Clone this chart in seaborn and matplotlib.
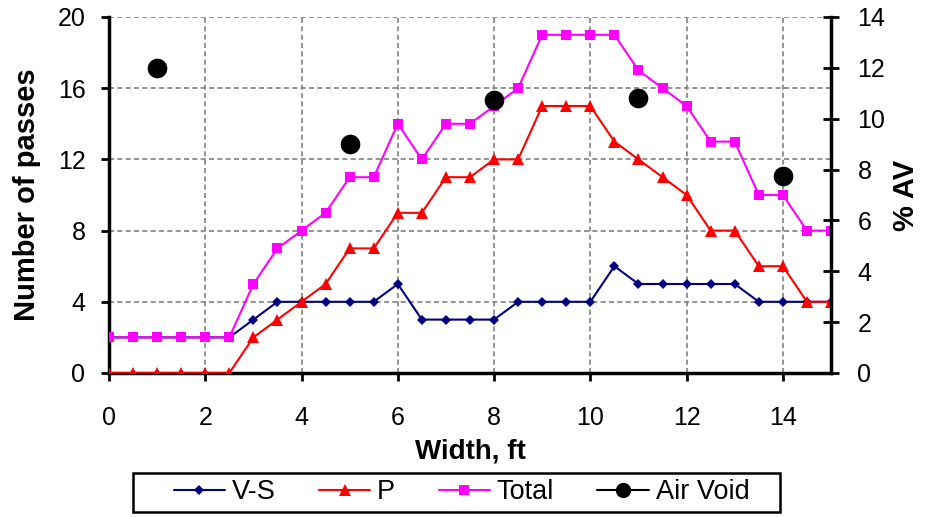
import matplotlib
matplotlib.use("Agg")
import matplotlib.pyplot as plt
import seaborn as sns
import pandas as pd
import numpy as np
from matplotlib.lines import Line2D
from matplotlib.patches import Rectangle

width_ft = [0, 0.5, 1, 1.5, 2, 2.5, 3, 3.5, 4, 4.5, 5, 5.5, 6, 6.5, 7, 7.5,
            8, 8.5, 9, 9.5, 10, 10.5, 11, 11.5, 12, 12.5, 13, 13.5, 14, 14.5, 15]
vs = [2, 2, 2, 2, 2, 2, 3, 4, 4, 4, 4, 4, 5, 3, 3, 3,
      3, 4, 4, 4, 4, 6, 5, 5, 5, 5, 5, 4, 4, 4, 4]
p = [0, 0, 0, 0, 0, 0, 2, 3, 4, 5, 7, 7, 9, 9, 11, 11,
     12, 12, 15, 15, 15, 13, 12, 11, 10, 8, 8, 6, 6, 4, 4]
total = [2, 2, 2, 2, 2, 2, 5, 7, 8, 9, 11, 11, 14, 12, 14, 14,
         15, 16, 19, 19, 19, 19, 17, 16, 15, 13, 13, 10, 10, 8, 8]
av_x = [1, 5, 8, 11, 14]
av_y = [12.0, 9.0, 10.75, 10.8, 7.75]

sns.set_theme(style="white")
plt.rcParams['font.family'] = ['Liberation Sans', 'DejaVu Sans']
plt.rcParams['text.color'] = 'black'
plt.rcParams['axes.labelcolor'] = 'black'

W, H = 925, 517
fig = plt.figure(figsize=(W / 100, H / 100), dpi=100)
ax = fig.add_axes([109/W, 1-373/H, (831-109)/W, (373-17)/H])
ax2 = ax.twinx()

df = pd.DataFrame({"x": width_ft, "V-S": vs, "P": p, "Total": total})
sns.lineplot(data=df, x="x", y="V-S", ax=ax, color="#000080", marker="D",
             markersize=5, markeredgewidth=0, linewidth=1.5, zorder=3)
sns.lineplot(data=df, x="x", y="P", ax=ax, color="#FF0000", marker="^",
             markersize=8, markeredgewidth=0, linewidth=1.5, zorder=3)
sns.lineplot(data=df, x="x", y="Total", ax=ax, color="#FF00FF", marker="s",
             markersize=7, markeredgewidth=0, linewidth=1.5, zorder=3)
sns.scatterplot(x=av_x, y=av_y, ax=ax2, color="black", s=200, linewidth=0, zorder=4)

ax.set_xlim(0, 15)
ax.set_ylim(0, 20)
ax2.set_ylim(0, 14)
ax.set_xticks([0, 2, 4, 6, 8, 10, 12, 14])
ax.set_yticks([0, 4, 8, 12, 16, 20])
ax2.set_yticks([0, 2, 4, 6, 8, 10, 12, 14])

ax.grid(True, color="#808080", linestyle=(0, (3, 2)), linewidth=1.2)
ax.set_axisbelow(True)

ax.spines["top"].set_visible(False)
ax2.spines["top"].set_visible(False)
ax2.spines["left"].set_visible(False)
ax2.spines["bottom"].set_visible(False)
ax.spines["right"].set_visible(False)
for s in ["left", "bottom"]:
    ax.spines[s].set_color("black")
    ax.spines[s].set_linewidth(2.5)
ax2.spines["right"].set_color("black")
ax2.spines["right"].set_linewidth(2.5)

ax.tick_params(axis="x", direction="out", length=6, width=2, color="black",
               labelsize=18, labelcolor="black", bottom=True, pad=18)
ax.tick_params(axis="y", direction="out", length=6, width=2, color="black",
               labelsize=18, labelcolor="black", left=True, pad=11)
ax2.tick_params(axis="y", direction="inout", length=12, width=2, color="black",
                labelsize=18, labelcolor="black", right=True, pad=13)

ax.set_xlabel("Width, ft", fontsize=20, fontweight="bold", labelpad=6, color="black")
ax.set_ylabel("Number of passes", fontsize=21, fontweight="bold", labelpad=12, color="black")
ax2.set_ylabel("% AV", fontsize=21, fontweight="bold", labelpad=5, color="black")

handles = [
    Line2D([0], [0], color="#000080", marker="D", markersize=5, markeredgewidth=0, lw=1.5),
    Line2D([0], [0], color="#FF0000", marker="^", markersize=8, markeredgewidth=0, lw=1.5),
    Line2D([0], [0], color="#FF00FF", marker="s", markersize=7, markeredgewidth=0, lw=1.5),
    Line2D([0], [0], color="black", marker="o", markersize=11, markeredgewidth=0, lw=1.5),
]
leg = fig.legend(handles, ["V-S", "P", "Total", "Air Void"], loc="center",
                 bbox_to_anchor=(461.5/W, 1-492/H), ncol=4, fontsize=19.5,
                 frameon=False, handlelength=1.9, columnspacing=1.6,
                 handletextpad=0.25, borderpad=0, borderaxespad=0)
for t in leg.get_texts():
    t.set_color("black")

fig.patches.append(Rectangle((133/W, 1-512/H), (780-133)/W, (512-473)/H,
                             transform=fig.transFigure, fill=False,
                             edgecolor="black", linewidth=1.8))

fig.savefig("out.png", dpi=100)
